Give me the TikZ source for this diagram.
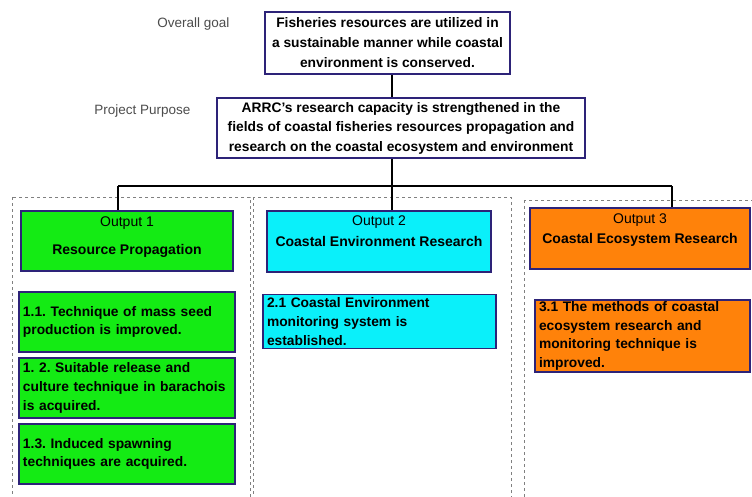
\documentclass[tikz,border=0pt]{standalone}
\usepackage{fontspec}
\setmainfont{Liberation Sans}
\usetikzlibrary{positioning}
\frenchspacing

\definecolor{boxline}{RGB}{45,35,120}
\definecolor{outgreen}{RGB}{20,235,20}
\definecolor{outcyan}{RGB}{10,240,250}
\definecolor{outorange}{RGB}{255,130,10}

\begin{document}
\begin{tikzpicture}[
  x=1pt, y=-1pt,
  top/.style={rectangle, draw=boxline, line width=1.6pt, fill=white, align=center,
              inner sep=2pt, font=\fontsize{13.8}{20}\selectfont\bfseries},
  output/.style={rectangle, draw=boxline, line width=1.2pt, align=center,
                 inner sep=2pt, font=\fontsize{14}{21}\selectfont},
  result/.style={rectangle, draw=boxline, line width=1.2pt, align=left,
                 inner sep=3pt, font=\fontsize{13.8}{18.6}\selectfont\bfseries},
  group/.style={draw=gray, dashed, line width=0.9pt},
  link/.style={draw=black, line width=1.6pt},
  tag/.style={font=\fontsize{13.5}{15}\selectfont, text=black!70}
]
\useasboundingbox (0,0) rectangle (752,496);

% ==========================================================
% Groups
% ==========================================================
\draw[group] (12,197) rectangle (250,510);
\draw[group] (253,197) rectangle (511,510);
\draw[group] (524,200) rectangle (770,510);

% ==========================================================
% Goal and purpose
% ==========================================================
\node[top, minimum width=245pt, minimum height=62pt] (Goal) at (387.5,43)
  {Fisheries resources are utilized in\\a sustainable manner while coastal\\environment is conserved.};
\node[top, minimum width=368pt, minimum height=60pt, font=\fontsize{13.8}{19.5}\selectfont\bfseries] (Purpose) at (401,128)
  {ARRC's research capacity is strengthened in the\\fields of coastal fisheries resources propagation and\\research on the coastal ecosystem and environment};
\node[tag, anchor=east] (GoalTag) at (233,24) {Overall goal};
\node[tag, anchor=east] (PurposeTag) at (194,111) {Project Purpose};

% ==========================================================
% Outputs
% ==========================================================
\node[output, fill=outgreen, minimum width=212pt, minimum height=60pt, font=\fontsize{14}{28}\selectfont] (Out1) at (127,241)
  {Output 1\\\textbf{Resource Propagation}\rule[-10pt]{0pt}{0pt}};
\node[output, fill=outcyan, minimum width=224pt, minimum height=61pt] (Out2) at (379,241.5)
  {Output 2\\\textbf{Coastal Environment Research}\\\mbox{}};
\node[output, fill=outorange, minimum width=220pt, minimum height=61pt, font=\fontsize{14}{20}\selectfont] (Out3) at (640,238.5)
  {Output 3\\\textbf{Coastal Ecosystem Research}\\\mbox{}};

% ==========================================================
% Results
% ==========================================================
\node[result, fill=outgreen, minimum width=216pt, minimum height=60pt, text width=208pt] (R11) at (127,322)
  {1.1. Technique of mass seed\\production is improved.};
\node[result, fill=outgreen, minimum width=216pt, minimum height=60pt, text width=208pt] (R12) at (127,388)
  {1. 2. Suitable release and\\culture technique in barachois\\is acquired.};
\node[result, fill=outgreen, minimum width=216pt, minimum height=60pt, text width=208pt] (R13) at (127,454)
  {1.3. Induced spawning\\techniques are acquired.};
\node[result, fill=outcyan, minimum width=233pt, minimum height=53pt, text width=225pt] (R21) at (379.5,321.5)
  {2.1 Coastal Environment\\monitoring system is\\established.};
\node[result, fill=outorange, minimum width=215pt, minimum height=72pt, text width=207pt, inner sep=1pt] (R31) at (642.5,336)
  {3.1 The methods of coastal\\ecosystem research and\\monitoring technique is\\improved.};

% ==========================================================
% Connectors
% ==========================================================
\coordinate (Trunk) at (392,186);
\coordinate (Left) at (118,186);
\coordinate (Right) at (672,186);
\draw[link] (Goal.south -| Trunk) -- (Purpose.north -| Trunk);
\draw[link] (Purpose.south -| Trunk) -- (Trunk);
\draw[link] (Left) -- (Right);
\draw[link] (Left) -- (Left |- Out1.north);
\draw[link] (Trunk) -- (Trunk |- Out2.north);
\draw[link] (Right) -- (Right |- Out3.north);

\end{tikzpicture}
\end{document}
